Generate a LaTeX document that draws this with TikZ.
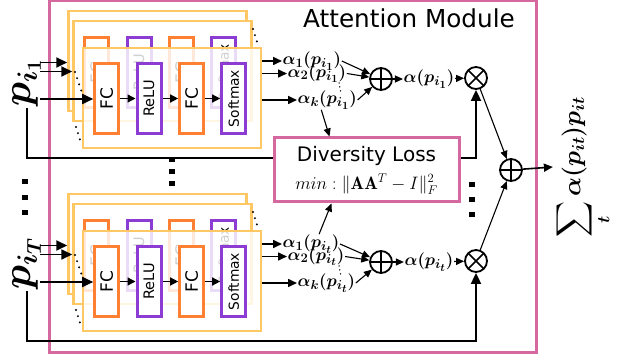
\RequirePackage{fix-cm}
\documentclass[tikz,border=0pt]{standalone}
\usepackage{amsmath}
\usepackage{amssymb}
\usepackage{bm}
\usepackage{graphicx}
\usepackage{fontspec}
\newfontfamily\labelfont{DejaVu Sans}
\usetikzlibrary{arrows.meta}
\DeclareMathSizes{17}{17}{13}{11}
\definecolor{attnpink}{RGB}{214,104,160}
\definecolor{layeryellow}{RGB}{255,200,100}
\definecolor{fcorange}{RGB}{255,128,50}
\definecolor{actpurple}{RGB}{140,60,210}

\begin{document}
\begin{tikzpicture}[x=1pt, y=-1pt,
  stackframe/.style={draw=layeryellow, line width=2.5pt, fill=white, minimum width=178pt, minimum height=100pt, inner sep=0pt},
  opbox/.style={fill=white, line width=3pt, minimum width=24pt, minimum height=70.5pt, inner sep=0pt},
  fcbox/.style={opbox, draw=fcorange, font=\labelfont\fontsize{17}{17}\selectfont},
  relubox/.style={opbox, draw=actpurple, font=\labelfont\fontsize{14.5}{14.5}\selectfont},
  softbox/.style={opbox, draw=actpurple, font=\labelfont\fontsize{13.8}{13.8}\selectfont},
  plabel/.style={rotate=90, font=\boldmath\fontsize{40}{40}\selectfont, inner sep=1pt},
  alabel/.style={font=\boldmath\fontsize{17}{17}\selectfont, inner sep=0.5pt},
  sumop/.style={circle, draw, line width=1.8pt, minimum size=22pt, inner sep=0pt,
    path picture={\draw[line width=1.6pt] (path picture bounding box.north) -- (path picture bounding box.south)
      (path picture bounding box.west) -- (path picture bounding box.east);}},
  prodop/.style={circle, draw, line width=1.8pt, minimum size=22pt, inner sep=0pt,
    path picture={\draw[line width=1.6pt] (path picture bounding box.north west) -- (path picture bounding box.south east)
      (path picture bounding box.south west) -- (path picture bounding box.north east);}},
  divbox/.style={draw=attnpink, line width=3pt, fill=white, minimum width=185pt, minimum height=64pt, align=center, inner sep=0pt},
  arrbig/.style={-{Triangle[length=11pt,width=10pt]}, line width=1.8pt},
  arrmid/.style={-{Triangle[length=9pt,width=8pt]}, line width=1.6pt},
  arrsmall/.style={-{Triangle[length=8pt,width=8pt]}, line width=1.4pt},
  arrthin/.style={-{Triangle[length=8pt,width=7pt]}, line width=1.1pt},
  stackdots/.style={line width=2.2pt, line cap=round, dash pattern=on 0pt off 6.5pt},
  dotline/.style={line width=1.5pt, line cap=round, dash pattern=on 0pt off 4pt}
]
\useasboundingbox (0,0) rectangle (624,358);

% Attention module frame
\node[draw=attnpink, line width=3pt, minimum width=487pt, minimum height=351pt, inner sep=0pt] (attn) at (292.5,176.5) {};
\node[font=\labelfont\fontsize{24.7}{25}\selectfont] (title) at (409,18.5) {Attention Module};

% Two branches: i_1 and i_T
\foreach \blk/\dy/\psub/\asub in {1/0/1/1,T/183/T/t}{
\begin{scope}[shift={(0,\dy)}]
% stacked layers
\node[stackframe] (back-\blk) at (157.5,61) {};
\node[stackframe] (mid-\blk) at (162.5,71) {};
\node[fcbox] (gfca-\blk) at (96.7,72.5) {\rotatebox{90}{FC}};
\node[relubox] (grelu-\blk) at (139,72.5) {\rotatebox{90}{ReLU}};
\node[fcbox] (gfcb-\blk) at (181.7,72.5) {\rotatebox{90}{FC}};
\node[softbox] (gsoft-\blk) at (223.7,72.5) {\rotatebox{90}{Softmax}};
\node[stackframe, fill opacity=0.82] (front-\blk) at (172,98) {};
\draw[stackdots] (75,72) -- (82,93);
\draw[stackdots] (76,127) -- (81,143);
\draw[stackdots] (253,29) -- (258,45);

% front layer
\node[fcbox] (fca-\blk) at (106.7,98.5) {\rotatebox{90}{FC}};
\node[relubox] (relu-\blk) at (149,98.5) {\rotatebox{90}{ReLU}};
\node[fcbox] (fcb-\blk) at (191.7,98.5) {\rotatebox{90}{FC}};
\node[softbox] (soft-\blk) at (233.7,98.5) {\rotatebox{90}{Softmax}};
\draw[arrsmall] (fca-\blk) -- (relu-\blk);
\draw[arrsmall] (relu-\blk) -- (fcb-\blk);
\draw[arrsmall] (fcb-\blk) -- (soft-\blk);

% input
\node[plabel, anchor=west] (p-\blk) at (27,108) {$p_{i_\psub}$};
\coordinate (in1-\blk) at (40,62.5);
\coordinate (in2-\blk) at (40,71.5);
\coordinate (in3-\blk) at (40,99);
\draw[arrbig] (in1-\blk) -- (in1-\blk -| back-\blk.west);
\draw[arrbig] (in2-\blk) -- (in2-\blk -| mid-\blk.west);
\draw[arrbig] (in3-\blk) -- (in3-\blk -| fca-\blk.west);

% attention weights
\node[alabel, anchor=west] (a1-\blk) at (282,61) {$\alpha_1(p_{i_\asub})$};
\node[alabel, anchor=west] (a2-\blk) at (287,73.5) {$\alpha_2(p_{i_\asub})$};
\node[alabel, anchor=west] (ak-\blk) at (297,100) {$\alpha_k(p_{i_\asub})$};
\draw[arrmid] (front-\blk.east |- a1-\blk.west) -- (a1-\blk.west);
\draw[arrmid] (front-\blk.east |- a2-\blk.west) -- (a2-\blk.west);
\draw[arrmid] (front-\blk.east |- ak-\blk.west) -- (ak-\blk.west);
\draw[dotline] (339,83) -- (341,93);

% sum and product
\node[sumop] (sum-\blk) at (381,79) {};
\node[alabel] (alpha-\blk) at (429,79) {$\alpha(p_{i_\asub})$};
\node[prodop] (prod-\blk) at (476,78) {};
\draw[arrthin] (a1-\blk.east) -- (sum-\blk);
\draw[arrthin] (a2-\blk.east) -- (sum-\blk);
\draw[arrthin] (ak-\blk.east) -- (sum-\blk);
\draw[arrthin] (sum-\blk) -- (alpha-\blk);
\draw[arrthin] (alpha-\blk) -- (prod-\blk);
\coordinate (bus-\blk) at (prod-\blk |- 0,158);
\draw[arrbig] (p-\blk.west) |- (bus-\blk) -- (prod-\blk.south);
\end{scope}
}

% Diversity loss
\node[divbox, font=\fontsize{20}{28}\selectfont] (div) at (366.5,170)
  {{\labelfont Diversity Loss}\\{\fontsize{18}{18}\selectfont $min: \|\mathbf{A}\mathbf{A}^T-I\|_F^2$}};
\draw[arrthin] ([xshift=-6pt]ak-1.south) -- ([xshift=-37pt]div.north);
\draw[arrthin] ([xshift=8pt]a1-T.north) -- ([xshift=-35pt]div.south);

% Output
\node[sumop] (bigsum) at (511,170) {};
\draw[arrthin] (prod-1) -- (bigsum);
\draw[arrthin] (prod-T) -- (bigsum);
\node[rotate=90, font=\boldmath\fontsize{25}{25}\selectfont, inner sep=1pt] (total) at (583,167) {$\displaystyle\sum_t \alpha(p_{it})p_{it}$};
\draw[arrmid] (bigsum) -- (total.north);

% vertical dots
\foreach \x/\y in {25/182,25/197.5,25/212.5,172/159.5,172/171.5,172/183.5,472/184.5,472/199.5,472/214.5}
  \fill (\x-2.8,\y-2.5) rectangle ++(5.6,5);
\end{tikzpicture}
\end{document}
